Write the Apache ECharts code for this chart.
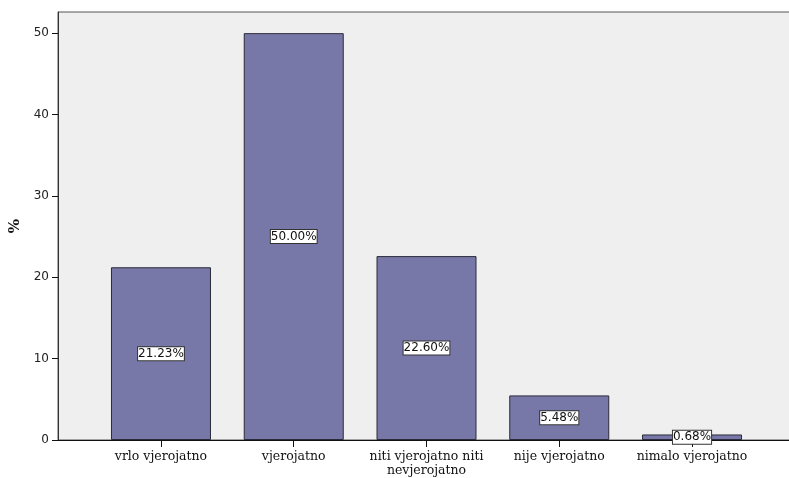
<!DOCTYPE html>
<html>
<head>
<meta charset="utf-8">
<script src="https://cdn.jsdelivr.net/npm/echarts@6/dist/echarts.min.js"></script>
<style>html,body{margin:0;padding:0;background:#fff}#c{width:789px;height:478px}</style>
</head>
<body>
<div id="c"></div>
<script>
const categories = ['vrlo vjerojatno', 'vjerojatno', 'niti vjerojatno niti\nnevjerojatno', 'nije vjerojatno', 'nimalo vjerojatno'];
const percents = [21.23, 50.00, 22.60, 5.48, 0.68];
const yTicks = [0, 10, 20, 30, 40, 50];

const chart = echarts.init(document.getElementById('c'), null, {renderer: 'canvas'});
const yMax = 52.6;
chart.setOption({
  animation: false,
  grid: [
    {left: 58, right: -2, top: 12, bottom: 38, show: true, backgroundColor: '#efefef', borderColor: '#555', borderWidth: 1, outerBoundsMode: 'none', containLabel: false},
    {left: 94.6, right: 30.6, top: 12, bottom: 38, outerBoundsMode: 'none', containLabel: false}
  ],
  xAxis: [
    {type: 'value', gridIndex: 0, min: 0, max: 1, show: true,
     axisLine: {show: true, lineStyle: {color: '#111', width: 1}}, axisTick: {show: false}, axisLabel: {show: false}, splitLine: {show: false}},
    {type: 'category', gridIndex: 1, data: categories,
     axisLine: {show: false},
     axisTick: {show: true, alignWithLabel: true, length: 7, lineStyle: {color: '#111'}},
     axisLabel: {fontFamily: 'DejaVu Serif', fontSize: 12.5, color: '#111', margin: 10, lineHeight: 14, interval: 0}}
  ],
  yAxis: [
    {type: 'value', gridIndex: 0, min: 0, max: yMax, name: '%', nameLocation: 'middle', nameGap: 34, nameRotate: 90,
     nameTextStyle: {fontFamily: 'DejaVu Serif', fontWeight: 'bold', fontSize: 15, color: '#111'},
     axisLine: {show: true, lineStyle: {color: '#333', width: 1}},
     axisTick: {show: true, length: 6, customValues: yTicks, lineStyle: {color: '#111'}},
     axisLabel: {customValues: yTicks, fontFamily: 'DejaVu Sans', fontSize: 12, color: '#222', margin: 9},
     splitLine: {show: false}},
    {type: 'value', gridIndex: 1, min: 0, max: yMax, show: false}
  ],
  series: [{
    type: 'bar', xAxisIndex: 1, yAxisIndex: 1, data: percents, barWidth: 100,
    itemStyle: {color: '#7878a8', borderColor: '#2a2a3a', borderWidth: 1},
    label: {show: true, position: 'inside', formatter: p => p.value.toFixed(2) + '%',
      fontFamily: 'DejaVu Sans', fontSize: 12, color: '#111',
      backgroundColor: '#fff', borderColor: '#333', borderWidth: 1, padding: [1, 0, 0, 0]}
  }]
});
</script>
</body>
</html>
